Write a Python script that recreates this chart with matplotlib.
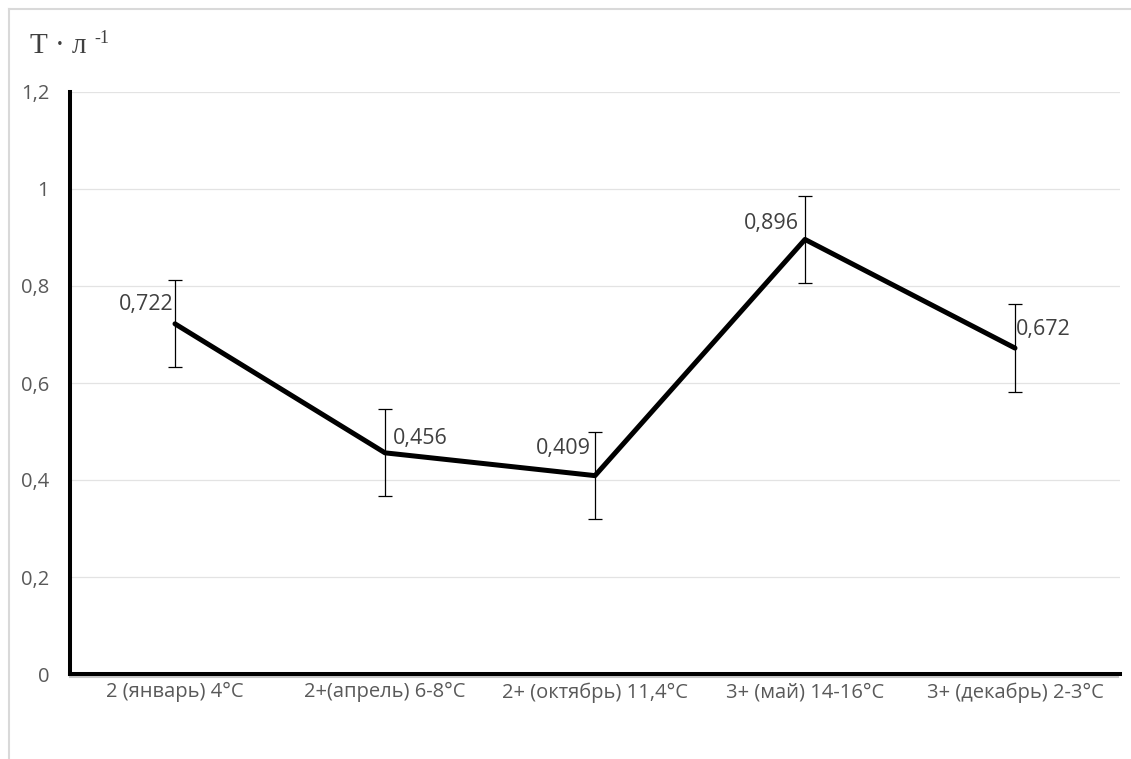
import matplotlib
matplotlib.use("Agg")
import matplotlib.pyplot as plt
from matplotlib.lines import Line2D

# Data
categories = ["2 (январь) 4°C", "2+(апрель) 6-8°C", "2+ (октябрь) 11,4°C",
              "3+ (май) 14-16°C", "3+ (декабрь) 2-3°C"]
values = [0.722, 0.456, 0.409, 0.896, 0.672]
errors = [0.09, 0.09, 0.09, 0.09, 0.09]
y_ticks = [0, 0.2, 0.4, 0.6, 0.8, 1.0, 1.2]
y_tick_labels = ["0", "0,2", "0,4", "0,6", "0,8", "1", "1,2"]
value_labels = ["0,722", "0,456", "0,409", "0,896", "0,672"]

# label placement: (dx px, dy px to baseline, horizontal alignment)
label_offsets = [(-2, 14, "right"), (8, 9, "left"), (-4, 22, "right"),
                 (-6, 10, "right"), (1, 13, "left")]

W, H = 1131, 759
PT = 72 / 100  # points per pixel at 100 dpi
fig = plt.figure(figsize=(W / 100, H / 100), dpi=100)
fig.patch.set_facecolor("white")

# outer frame
fig.add_artist(Line2D([9 / W, 9 / W], [0, 1 - 9 / H], transform=fig.transFigure,
                      color="#d9d9d9", lw=1.5))
fig.add_artist(Line2D([9 / W, 1], [1 - 9 / H, 1 - 9 / H], transform=fig.transFigure,
                      color="#d9d9d9", lw=1.5))

left, right, top, bottom = 70, 1120, 92, 674
ax = fig.add_axes([left / W, 1 - bottom / H, (right - left) / W, (bottom - top) / H])

x = list(range(len(categories)))
ax.plot(x, values, color="black", lw=3.6, solid_capstyle="round", zorder=3)
ax.errorbar(x, values, yerr=errors, fmt="none", ecolor="#000000", elinewidth=0.9,
            capsize=5, capthick=0.9, zorder=4)

font = "Open Sans"
for xi, v, lab, (dx, dy, ha) in zip(x, values, value_labels, label_offsets):
    ax.annotate(lab, (xi, v), xytext=(dx * PT, dy * PT), textcoords="offset points",
                ha=ha, va="baseline", fontsize=15.5, color="#404040", family=font)

ax.set_xlim(-0.5, len(categories) - 0.5)
ax.set_ylim(0, 1.2)
ax.set_yticks(y_ticks)
ax.set_yticklabels(y_tick_labels, family=font, fontsize=14.5, color="#595959")
ax.set_xticks(x)
ax.set_xticklabels(categories, family=font, fontsize=14.5, color="#595959")
ax.tick_params(axis="both", length=0)
ax.tick_params(axis="y", pad=15)
ax.tick_params(axis="x", pad=6)

for yv in y_ticks[1:]:
    ax.axhline(yv, color="#e3e3e3", lw=0.9, zorder=0)

for s in ["top", "right"]:
    ax.spines[s].set_visible(False)
for s in ["left", "bottom"]:
    ax.spines[s].set_linewidth(2.9)
    ax.spines[s].set_color("black")
    ax.spines[s].set_capstyle("projecting")

# soft shadow under the baseline
fig.add_artist(Line2D([left / W, (right - 2) / W], [1 - (bottom + 3) / H, 1 - (bottom + 3) / H],
                      transform=fig.transFigure, color="#c8c8c8", lw=1.5, zorder=0))

# axis unit label
fig.text(30 / W, 1 - 53 / H, "Т · л", family="Liberation Serif", fontsize=21,
         color="#404040", ha="left", va="baseline")
fig.text(94 / W, 1 - 43 / H, "-1", family="Liberation Serif", fontsize=13,
         color="#404040", ha="left", va="baseline")

fig.savefig("out.png", dpi=100)
